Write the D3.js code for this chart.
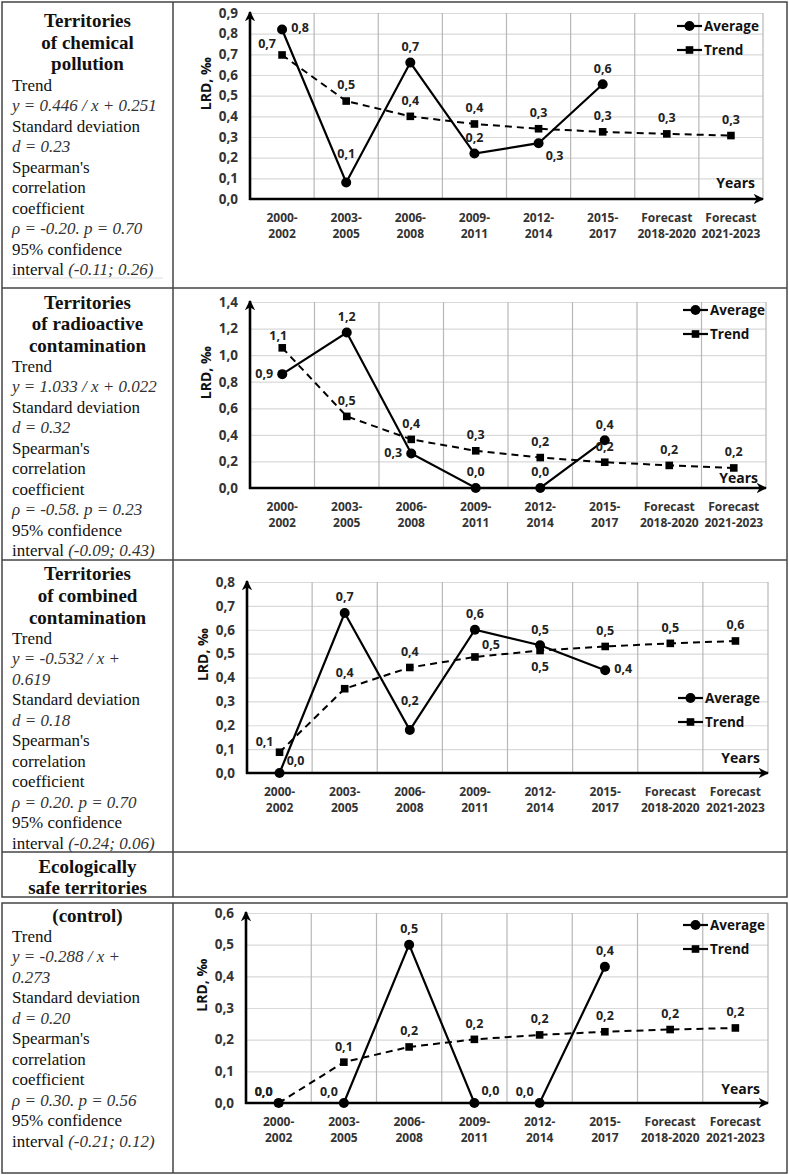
<!DOCTYPE html>
<html>
<head>
<meta charset="utf-8">
<script src="https://cdn.jsdelivr.net/npm/d3@7"></script>
<style>
  body { margin: 0; background: #fff; }
  svg { display: block; }
</style>
</head>
<body>
<svg id="chart" width="789" height="1175"></svg>
<script>
// categories shared by all four panels
const categories = ['2000-2002', '2003-2005', '2006-2008', '2009-2011', '2012-2014', '2015-2017',
  'Forecast 2018-2020', 'Forecast 2021-2023'];

// chemical pollution
const chemAverage = [0.82, 0.08, 0.66, 0.22, 0.27, 0.555];
const chemTrend = [0.697, 0.474, 0.40, 0.363, 0.340, 0.325, 0.315, 0.307];
const chemTicks = [0, 0.1, 0.2, 0.3, 0.4, 0.5, 0.6, 0.7, 0.8, 0.9];

// radioactive contamination
const radAverage = [0.857, 1.17, 0.26, 0, 0, 0.36];
const radTrend = [1.055, 0.539, 0.366, 0.280, 0.229, 0.194, 0.170, 0.151];
const radTicks = [0, 0.2, 0.4, 0.6, 0.8, 1.0, 1.2, 1.4];

// combined contamination
const combAverage = [0, 0.67, 0.18, 0.60, 0.535, 0.43];
const combTrend = [0.087, 0.353, 0.442, 0.486, 0.513, 0.530, 0.543, 0.553];
const combTicks = [0, 0.1, 0.2, 0.3, 0.4, 0.5, 0.6, 0.7, 0.8];

// ecologically safe (control)
const ctrlAverage = [0, 0, 0.5, 0, 0, 0.43];
const ctrlTrend = [0, 0.129, 0.177, 0.201, 0.215, 0.225, 0.232, 0.237];
const ctrlTicks = [0, 0.1, 0.2, 0.3, 0.4, 0.5, 0.6];

// where each data label sits relative to its point
const chemAvgPos = ['r', 'aa', 'a', 'a', 'br', 'a'];
const chemTrendPos = ['al', 'a', 'a', 'a', 'a', 'a', 'a', 'a'];
const radAvgPos = ['l', 'a', 'l', 'a', 'a', 'a'];
const radTrendPos = ['ac', 'a', 'a', 'a', 'a', 'a', 'a', 'a'];
const combAvgPos = ['ar', 'a', 'aa', 'a', 'a', 'r'];
const combTrendPos = ['al', 'a', 'a', 'ar', 'b', 'a', 'a', 'a'];
const ctrlAvgPos = ['al', 'al', 'a', 'ar', 'al', 'a'];
const ctrlTrendPos = ['al', 'a', 'a', 'a', 'a', 'a', 'a', 'a'];

const panels = [
  { average: chemAverage, trend: chemTrend, ticks: chemTicks, avgPos: chemAvgPos, trendPos: chemTrendPos,
    left: 250, right: 763, top: 13, bottom: 199, legend: [677, 26], yearsDy: -11 },
  { average: radAverage, trend: radTrend, ticks: radTicks, avgPos: radAvgPos, trendPos: radTrendPos,
    left: 250, right: 766, top: 302, bottom: 488, legend: [683, 310], yearsDy: -5 },
  { average: combAverage, trend: combTrend, ticks: combTicks, avgPos: combAvgPos, trendPos: combTrendPos,
    left: 247, right: 768, top: 582, bottom: 773, legend: [678, 698], yearsDy: -10 },
  { average: ctrlAverage, trend: ctrlTrend, ticks: ctrlTicks, avgPos: ctrlAvgPos, trendPos: ctrlTrendPos,
    left: 246, right: 768, top: 913, bottom: 1103, legend: [683, 925], yearsDy: -9 },
];

const rowTexts = [
  { title: ['Territories', 'of chemical', 'pollution'], titleY: [20, 42, 63], bodyY: 85, body: [
    ['Trend'], [{ i: 'y = 0.446 / x + 0.251' }], ['Standard deviation'], [{ i: 'd = 0.23' }],
    ["Spearman's"], ['correlation'], ['coefficient'], [{ i: 'ρ = -0.20. p = 0.70' }],
    ['95% confidence'], ['interval ', { i: '(-0.11; 0.26)' }]] },
  { title: ['Territories', 'of radioactive', 'contamination'], titleY: [302, 323, 345], bodyY: 366, body: [
    ['Trend'], [{ i: 'y = 1.033 / x + 0.022' }], ['Standard deviation'], [{ i: 'd = 0.32' }],
    ["Spearman's"], ['correlation'], ['coefficient'], [{ i: 'ρ = -0.58. p = 0.23' }],
    ['95% confidence'], ['interval ', { i: '(-0.09; 0.43)' }]] },
  { title: ['Territories', 'of combined', 'contamination'], titleY: [573, 595, 617], bodyY: 638, body: [
    ['Trend'], [{ i: 'y = -0.532 / x +' }], [{ i: '0.619' }], ['Standard deviation'], [{ i: 'd = 0.18' }],
    ["Spearman's"], ['correlation'], ['coefficient'], [{ i: 'ρ = 0.20. p = 0.70' }],
    ['95% confidence'], ['interval ', { i: '(-0.24; 0.06)' }]] },
  { title: ['Ecologically', 'safe territories'], titleY: [866, 887], bodyY: 0, body: [] },
  { title: ['(control)'], titleY: [915], bodyY: 936, body: [
    ['Trend'], [{ i: 'y = -0.288 / x +' }], [{ i: '0.273' }], ['Standard deviation'], [{ i: 'd = 0.20' }],
    ["Spearman's"], ['correlation'], ['coefficient'], [{ i: 'ρ = 0.30. p = 0.56' }],
    ['95% confidence'], ['interval ', { i: '(-0.21; 0.12)' }]] },
];

const svg = d3.select('#chart');
const chartFont = '"Open Sans", "DejaVu Sans", sans-serif';
const textFont = '"Liberation Serif", "Times New Roman", serif';
const fmt = v => d3.format('.1f')(Math.abs(v) < 0.05 ? 0 : v).replace('.', ',');

const offsets = {
  a: [0, -16], aa: [0, -29], ac: [-4, -12], b: [0, 16], l: [-18, -1], r: [18, -2],
  al: [-15, -11], ar: [16, -12], br: [16, 12],
};

svg.append('defs').append('marker')
  .attr('id', 'arrow')
  .attr('viewBox', '0 0 10 10')
  .attr('refX', 9)
  .attr('refY', 5)
  .attr('markerWidth', 4)
  .attr('markerHeight', 4)
  .attr('markerUnits', 'strokeWidth')
  .attr('orient', 'auto')
  .append('path')
  .attr('d', 'M0,0 L10,5 L0,10 L3,5 Z')
  .attr('fill', '#000');

// table borders
const border = svg.append('g').attr('fill', 'none').attr('stroke', '#444').attr('stroke-width', 1.5);
border.append('rect').attr('x', 2).attr('y', 2).attr('width', 785).attr('height', 895);
border.append('rect').attr('x', 2).attr('y', 903).attr('width', 785).attr('height', 270);
[288, 560, 852].forEach(yy => border.append('line').attr('x1', 2).attr('x2', 787).attr('y1', yy).attr('y2', yy));
border.append('line').attr('x1', 173).attr('x2', 173).attr('y1', 2).attr('y2', 897);
border.append('line').attr('x1', 173).attr('x2', 173).attr('y1', 903).attr('y2', 1173);
svg.append('line').attr('x1', 10).attr('x2', 163).attr('y1', 278).attr('y2', 278)
  .attr('stroke', '#ddd').attr('stroke-width', 1);

// left column text
rowTexts.forEach(row => {
  row.title.forEach((t, i) => svg.append('text')
    .attr('x', 87.5)
    .attr('y', row.titleY[i])
    .attr('dy', '0.35em')
    .attr('text-anchor', 'middle')
    .attr('font-family', textFont)
    .attr('font-weight', 'bold')
    .attr('font-size', 19)
    .attr('fill', '#111')
    .text(t));

  row.body.forEach((parts, i) => {
    const text = svg.append('text')
      .attr('x', 12)
      .attr('y', row.bodyY + i * 20.5)
      .attr('dy', '0.35em')
      .attr('font-family', textFont)
      .attr('font-size', 17)
      .attr('fill', '#111');
    parts.forEach(p => {
      if (typeof p === 'string') text.append('tspan').text(p);
      else text.append('tspan').attr('font-style', 'italic').attr('fill', '#333').text(p.i);
    });
  });
});

const drawPanel = p => {
  const g = svg.append('g').attr('font-family', chartFont);

  const x = d3.scaleBand().domain(categories).range([p.left, p.right]);
  const y = d3.scaleLinear().domain([0, d3.max(p.ticks)]).range([p.bottom, p.top]);
  const cx = i => x(categories[i]) + x.bandwidth() / 2;

  // horizontal grid
  g.append('g')
    .attr('transform', `translate(${p.left},0)`)
    .call(d3.axisLeft(y).tickValues(p.ticks).tickSize(-(p.right - p.left)).tickFormat(''))
    .call(a => a.select('.domain').remove())
    .call(a => a.selectAll('line').attr('stroke', '#d9d9d9').attr('stroke-width', 1.2));

  // vertical grid at band edges
  g.append('g')
    .selectAll('line')
    .data(categories)
    .join('line')
    .attr('x1', d => x(d) + x.bandwidth())
    .attr('x2', d => x(d) + x.bandwidth())
    .attr('y1', p.top)
    .attr('y2', p.bottom)
    .attr('stroke', '#b8b8b8')
    .attr('stroke-width', 1.2);

  // y tick labels
  g.append('g')
    .attr('transform', `translate(${p.left},0)`)
    .call(d3.axisLeft(y).tickValues(p.ticks).tickSize(0).tickPadding(12).tickFormat(d => d3.format('.1f')(d).replace('.', ',')))
    .call(a => a.select('.domain').remove())
    .call(a => a.selectAll('text')
      .attr('font-family', chartFont)
      .attr('font-weight', 'bold')
      .attr('font-size', 13.5)
      .attr('fill', '#333'));

  // x category labels on two lines
  const xa = g.append('g')
    .attr('transform', `translate(0,${p.bottom})`)
    .call(d3.axisBottom(x).tickSize(0).tickPadding(0))
    .call(a => a.select('.domain').remove());
  xa.selectAll('text').each(function (d) {
    const lines = d.startsWith('Forecast') ? d.split(' ') : [d.slice(0, 5), d.slice(5)];
    const t = d3.select(this)
      .text(null)
      .attr('y', 0)
      .attr('dy', null)
      .attr('font-family', chartFont)
      .attr('font-weight', 'bold')
      .attr('font-size', 12)
      .attr('fill', '#333');
    lines.forEach((l, i) => t.append('tspan').attr('x', 0).attr('y', 23 + i * 16).text(l));
  });

  // axis lines with arrows
  g.append('line')
    .attr('x1', p.left).attr('x2', p.left)
    .attr('y1', p.bottom + 1).attr('y2', p.top - 1)
    .attr('stroke', '#000').attr('stroke-width', 2.6)
    .attr('marker-end', 'url(#arrow)');
  g.append('line')
    .attr('x1', p.left - 1).attr('x2', p.right)
    .attr('y1', p.bottom).attr('y2', p.bottom)
    .attr('stroke', '#000').attr('stroke-width', 2.6)
    .attr('marker-end', 'url(#arrow)');

  // axis titles
  g.append('text')
    .attr('transform', `translate(${p.left - 44},${p.top + (p.bottom - p.top) * 0.38}) rotate(-90)`)
    .attr('text-anchor', 'middle')
    .attr('dy', '0.35em')
    .attr('font-weight', 'bold')
    .attr('font-size', 14)
    .attr('fill', '#111')
    .text('LRD, ‰');
  g.append('text')
    .attr('x', p.right - 8)
    .attr('y', p.bottom + p.yearsDy)
    .attr('text-anchor', 'end')
    .attr('font-weight', 'bold')
    .attr('font-size', 14)
    .attr('fill', '#111')
    .text('Years');

  // trend series
  g.append('path')
    .datum(p.trend)
    .attr('fill', 'none')
    .attr('stroke', '#000')
    .attr('stroke-width', 2)
    .attr('stroke-dasharray', '7,5')
    .attr('d', d3.line().x((d, i) => cx(i)).y(d => y(d)));
  g.append('g')
    .selectAll('rect')
    .data(p.trend)
    .join('rect')
    .attr('x', (d, i) => cx(i) - 3.8)
    .attr('y', d => y(d) - 3.8)
    .attr('width', 7.6)
    .attr('height', 7.6)
    .attr('fill', '#000');

  // average series
  g.append('path')
    .datum(p.average)
    .attr('fill', 'none')
    .attr('stroke', '#000')
    .attr('stroke-width', 2.2)
    .attr('d', d3.line().x((d, i) => cx(i)).y(d => y(d)));
  g.append('g')
    .selectAll('circle')
    .data(p.average)
    .join('circle')
    .attr('cx', (d, i) => cx(i))
    .attr('cy', d => y(d))
    .attr('r', 5)
    .attr('fill', '#000');

  // data labels
  const labels = (values, pos) => g.append('g')
    .selectAll('text')
    .data(values)
    .join('text')
    .attr('x', (d, i) => cx(i) + offsets[pos[i]][0])
    .attr('y', (d, i) => y(d) + offsets[pos[i]][1])
    .attr('dy', '0.35em')
    .attr('text-anchor', 'middle')
    .attr('font-weight', 'bold')
    .attr('font-size', 12.5)
    .attr('fill', '#222')
    .text(d => fmt(d));
  labels(p.trend, p.trendPos);
  labels(p.average, p.avgPos);

  // legend
  const [lx, ly] = p.legend;
  const legendRows = [{ name: 'Average', shape: 'circle' }, { name: 'Trend', shape: 'square' }];
  legendRows.forEach((r, i) => {
    const row = g.append('g').attr('transform', `translate(${lx},${ly + i * 24})`);
    row.append('line').attr('x1', 0).attr('x2', 25).attr('stroke', '#000').attr('stroke-width', 2.2);
    if (r.shape === 'circle') row.append('circle').attr('cx', 12.5).attr('r', 5).attr('fill', '#000');
    else row.append('rect').attr('x', 8.7).attr('y', -3.8).attr('width', 7.6).attr('height', 7.6).attr('fill', '#000');
    row.append('text')
      .attr('x', 27)
      .attr('dy', '0.35em')
      .attr('font-weight', 'bold')
      .attr('font-size', 13.5)
      .attr('fill', '#111')
      .text(r.name);
  });
};

panels.forEach(drawPanel);
</script>
</body>
</html>
